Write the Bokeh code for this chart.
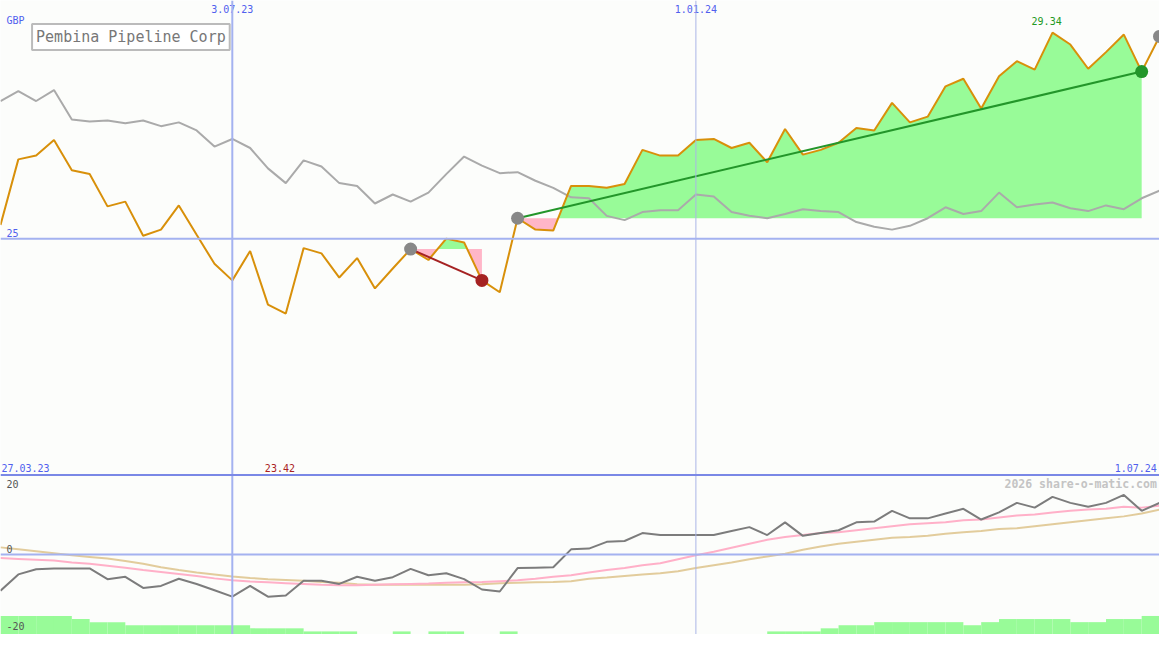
import numpy as np
from bokeh.plotting import figure
from bokeh.models import Range1d, Span, Label
from bokeh.core.properties import value
from bokeh.embed import file_html
from bokeh.resources import INLINE

# ---------------- data ----------------
title = "Pembina Pipeline Corp"
currency = "GBP"
weeks = list(range(66))  # weekly points, 3.04.23 ... 1.07.24

price = [25.29, 26.67, 26.75, 27.08, 26.44, 26.36, 25.68, 25.78, 25.06, 25.19,
         25.70, 25.08, 24.47, 24.12, 24.74, 23.61, 23.42, 24.80, 24.69, 24.18,
         24.59, 23.95, 24.37, 24.78, 24.55, 25.00, 24.92, 24.12, 23.87, 25.43,
         25.19, 25.17, 26.11, 26.11, 26.07, 26.15, 26.87, 26.75, 26.75, 27.08,
         27.10, 26.91, 27.02, 26.61, 27.31, 26.77, 26.87, 27.02, 27.33, 27.28,
         27.86, 27.45, 27.57, 28.21, 28.37, 27.74, 28.42, 28.74, 28.56, 29.34,
         29.09, 28.58, 28.93, 29.30, 28.52, 29.26]

benchmark = [27.90, 28.11, 27.90, 28.13, 27.51, 27.47, 27.49, 27.43, 27.49, 27.37,
             27.45, 27.28, 26.94, 27.10, 26.91, 26.48, 26.17, 26.65, 26.52, 26.17,
             26.11, 25.74, 25.93, 25.78, 25.97, 26.36, 26.73, 26.54, 26.38, 26.40,
             26.22, 26.07, 25.87, 25.85, 25.48, 25.39, 25.56, 25.60, 25.60, 25.93,
             25.89, 25.56, 25.48, 25.43, 25.52, 25.62, 25.58, 25.56, 25.35, 25.25,
             25.19, 25.27, 25.43, 25.66, 25.52, 25.58, 25.97, 25.66, 25.72, 25.76,
             25.64, 25.58, 25.70, 25.62, 25.85, 26.01]

oscillator = [-9.1, -5.0, -3.7, -3.5, -3.5, -3.5, -6.2, -5.6, -8.4, -7.9,
              -6.1, -7.4, -9.0, -10.6, -7.9, -10.6, -10.3, -6.6, -6.6, -7.4,
              -5.6, -6.6, -5.7, -3.6, -5.2, -4.7, -6.2, -8.8, -9.3, -3.4,
              -3.3, -3.2, 1.3, 1.5, 3.2, 3.4, 5.4, 4.9, 4.9, 4.9,
              4.9, 5.9, 6.9, 4.9, 8.1, 4.7, 5.4, 6.1, 8.1, 8.3,
              11.0, 9.1, 9.1, 10.3, 11.5, 8.8, 10.6, 13.0, 11.8, 14.5,
              13.0, 12.0, 13.0, 15.0, 11.0, 13.0]

osc_fast = [-0.9, -1.1, -1.3, -1.5, -2.0, -2.3, -2.8, -3.3, -3.9, -4.4,
            -4.9, -5.4, -6.0, -6.5, -6.8, -7.0, -7.2, -7.4, -7.6, -7.7,
            -7.7, -7.6, -7.5, -7.4, -7.3, -7.1, -7.0, -6.9, -6.7, -6.5,
            -6.1, -5.6, -5.2, -4.5, -3.9, -3.4, -2.7, -2.2, -1.2, -0.2,
            0.7, 1.7, 2.7, 3.7, 4.4, 4.9, 5.4, 5.6, 6.1, 6.6,
            7.1, 7.6, 7.9, 8.1, 8.6, 8.8, 9.3, 9.8, 10.1, 10.6,
            11.0, 11.3, 11.5, 12.0, 11.8, 12.3]

osc_slow = [1.8, 1.3, 0.8, 0.3, -0.2, -0.6, -1.0, -1.6, -2.3, -3.2,
            -3.9, -4.5, -5.0, -5.5, -5.9, -6.2, -6.4, -6.6, -6.9, -7.1,
            -7.5, -7.6, -7.6, -7.6, -7.6, -7.6, -7.6, -7.5, -7.2, -7.1,
            -7.0, -6.9, -6.7, -6.1, -5.8, -5.4, -5.0, -4.7, -4.2, -3.4,
            -2.7, -2.0, -1.2, -0.5, 0.2, 1.2, 2.0, 2.7, 3.2, 3.7,
            4.2, 4.4, 4.7, 5.2, 5.6, 5.9, 6.4, 6.6, 7.1, 7.6,
            8.1, 8.6, 9.1, 9.6, 10.3, 11.3]

# strength level per week interval (65 intervals)
strength = [6, 6, 6, 6, 5, 4, 4, 3, 3, 3, 3, 3, 3, 3, 2, 2, 2, 1, 1, 1,
            0, 0, 1, 0, 1, 1, 0, 0, 1, 0, 0, 0, 0, 0, 0, 0, 0, 0, 0, 0,
            0, 0, 0, 1, 1, 1, 2, 3, 3, 4, 4, 4, 4, 4, 3, 4, 5, 5, 5, 5,
            4, 4, 5, 5, 6]

date_tick_labels = ["3.07.23", "1.01.24"]
date_tick_weeks = [13, 39]
range_start_label = "27.03.23"
range_end_label = "1.07.24"
price_level = 25
osc_limit = 20
trades = [(23, 27), (29, 64)]  # (entry week, exit week)
watermark = "2026 share-o-matic.com"

# ---------------- styles ----------------
BG = "#fcfdfb"
BLUE_TXT = "#5060ee"
GRID = "#a4b2f0"
FONT_NAME = "DejaVu Sans Mono"
FONT = value(FONT_NAME)
ORANGE = "#d8900a"
GREEN_FILL = "#98fb98"
PINK_FILL = "#ffb6c8"

W, H = 1159, 634
p = figure(width=W, height=H, x_range=Range1d(0, 65), y_range=Range1d(16.658, 30.018),
           output_backend="svg", toolbar_location=None, min_border=0,
           x_axis_location=None, y_axis_location=None,
           background_fill_color=BG, border_fill_color=BG, outline_line_color=None)
p.grid.visible = False
p.extra_y_ranges = {"osc": Range1d(-20.12, 139.39), "hist": Range1d(0, 205.2)}

# strength bars (bottom)
p.quad(left=weeks[:-1], right=weeks[1:], bottom=0, top=strength, y_range_name="hist",
       fill_color=GREEN_FILL, line_color=None)

# grid lines
p.add_layout(Span(location=date_tick_weeks[0], dimension="height", line_color=GRID, line_width=2))
p.add_layout(Span(location=date_tick_weeks[1], dimension="height", line_color="#aab6e6", line_width=1))
p.add_layout(Span(location=price_level, dimension="width", line_color=GRID, line_width=2))
p.add_layout(Span(location=0, dimension="width", line_color=GRID, line_width=2, y_range_name="osc"))
p.add_layout(Span(location=osc_limit, dimension="width", line_color="#7a88e6", line_width=2, y_range_name="osc"))


def with_crossings(xs, ys, level):
    ox, oy = [xs[0]], [ys[0]]
    for k in range(1, len(xs)):
        y0, y1 = ys[k - 1], ys[k]
        if (y0 - level) * (y1 - level) < 0:
            t = (level - y0) / (y1 - y0)
            ox.append(xs[k - 1] + t * (xs[k] - xs[k - 1]))
            oy.append(level)
        ox.append(xs[k])
        oy.append(y1)
    return np.array(ox, float), np.array(oy, float)


# trade fills
for a, b in trades:
    lvl = price[a]
    dx, dy = with_crossings(weeks[a:b + 1], price[a:b + 1], lvl)
    p.varea(x=dx, y1=lvl, y2=np.maximum(dy, lvl), fill_color=GREEN_FILL)
    p.varea(x=dx, y1=np.minimum(dy, lvl), y2=lvl, fill_color=PINK_FILL)

# oscillator panel lines
p.line(weeks, osc_slow, y_range_name="osc", line_color="#e2cc9c", line_width=2)
p.line(weeks, osc_fast, y_range_name="osc", line_color="#ffb0c8", line_width=2)
p.line(weeks, oscillator, y_range_name="osc", line_color="#7c7c7c", line_width=2)

# price panel lines
p.line(weeks, benchmark, line_color="#aaaaaa", line_width=2)
p.line(weeks, price, line_color=ORANGE, line_width=2)

# trade lines & markers
trade_colors = ["#a52222", "#23962a"]
for (a, b), c in zip(trades, trade_colors):
    p.line([weeks[a], weeks[b]], [price[a], price[b]], line_color=c, line_width=2)
    p.scatter([weeks[a]], [price[a]], size=13, fill_color="#888888", line_color=None)
    p.scatter([weeks[b]], [price[b]], size=13, fill_color=c, line_color=None)
p.scatter([weeks[-1]], [price[-1]], size=13, fill_color="#888888", line_color=None)

# ---------------- texts ----------------
imax = int(np.argmax(price))
imin = int(np.argmin(price))

p.text(x=date_tick_weeks, y=[29.833] * 2, text=date_tick_labels, text_font=FONT,
       text_font_size="10px", text_color=BLUE_TXT, text_align="center", text_baseline="middle")
p.text(x=[0.33], y=[29.607], text=[currency], text_font=FONT, text_font_size="10px",
       text_color=BLUE_TXT, text_align="left", text_baseline="middle")
p.text(x=[0.33], y=[25.126], text=[str(price_level)], text_font=FONT, text_font_size="10px",
       text_color=BLUE_TXT, text_align="left", text_baseline="middle")
p.text(x=[weeks[imax] - 0.33], y=[29.586], text=[f"{price[imax]:.2f}"], text_font=FONT,
       text_font_size="10px", text_color="#229922", text_align="center", text_baseline="middle")
p.text(x=[weeks[imin] - 0.33], y=[21.84], y_range_name="osc", text=[f"{price[imin]:.2f}"],
       text_font=FONT, text_font_size="10px", text_color="#aa2222", text_align="center",
       text_baseline="middle")
p.text(x=[0.05], y=[21.84], y_range_name="osc", text=[range_start_label], text_font=FONT,
       text_font_size="10px", text_color=BLUE_TXT, text_align="left", text_baseline="middle")
p.text(x=[64.85], y=[21.84], y_range_name="osc", text=[range_end_label], text_font=FONT,
       text_font_size="10px", text_color=BLUE_TXT, text_align="right", text_baseline="middle")
p.text(x=[64.85], y=[17.67], y_range_name="osc", text=[watermark], text_font=FONT,
       text_font_size="11.5px", text_font_style="bold", text_color="#c4c4c4",
       text_align="right", text_baseline="middle")
p.text(x=[0.33, 0.33, 0.33], y=[17.67, 1.47, -17.9], y_range_name="osc",
       text=[str(osc_limit), "0", str(-osc_limit)], text_font=FONT, text_font_size="10px",
       text_color="#555555", text_align="left", text_baseline="middle")

p.add_layout(Label(x=1.77, y=29.525, text=title, text_font=FONT_NAME, text_font_size="15px",
                   text_color="#777777", text_align="left", text_baseline="top",
                   border_line_color="#bbbbbb", border_line_width=2,
                   background_fill_color="#ffffff", padding=4))

open("out.html", "w").write(file_html(p, INLINE))
